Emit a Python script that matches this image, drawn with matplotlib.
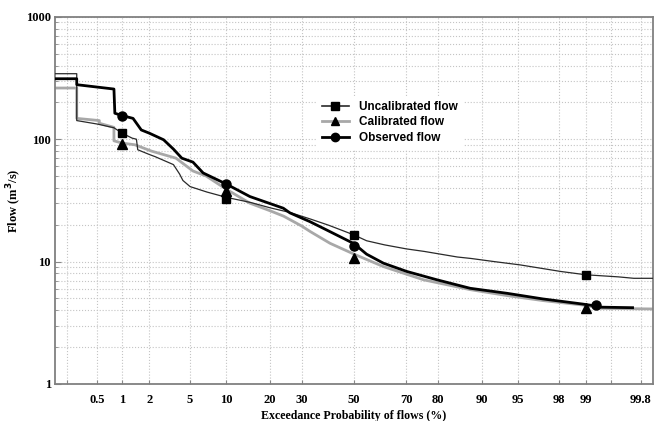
import numpy as np
import matplotlib
matplotlib.use('Agg')
import matplotlib.pyplot as plt
import matplotlib.ticker as ticker
from matplotlib.lines import Line2D
from statistics import NormalDist

# exceedance probability (%) and flow (m3/s)
uncal_p = [0.135, 0.27, 0.27, 0.5, 0.8, 1.0, 1.3, 1.45, 1.5, 2.0, 2.3, 3.5, 4.0,
           4.3, 5.0, 7.0, 10, 15, 20, 26, 33, 40, 50, 55, 62, 70, 76, 85, 88,
           92, 95.2, 98.1, 99, 99.6, 99.75, 99.865]
uncal_q = [343, 343, 142, 133, 124, 112, 102, 100, 82, 75, 72, 62, 52,
           46, 41, 37, 33.5, 30.4, 27.5, 25.2, 22.3, 19.8, 16.5, 14.8, 13.7, 12.7, 12.1, 10.9, 10.6,
           10.0, 9.4, 8.3, 7.8, 7.5, 7.3, 7.3]

cal_p = [0.135, 0.27, 0.27, 0.53, 0.53, 0.8, 0.8, 1.0, 1.4, 2.1, 3.7, 5.3, 6.9,
         10, 14.8, 20, 24, 30, 33, 40.5, 50, 61.6, 75.7, 87.8, 93.8, 97.1,
         98.9, 99.35, 99.865]
cal_q = [262, 262, 148, 142, 135, 125, 97, 93, 90, 80, 70, 55, 50,
         39, 30, 26, 23.5, 19.5, 17.6, 14.1, 11.5, 9.1, 7.1, 5.9, 5.27, 4.8,
         4.42, 4.15, 4.1]

obs_p = [0.135, 0.27, 0.27, 0.8, 0.82, 1.0, 1.33, 1.64, 2.0, 2.8, 3.5, 4.2, 5.3, 6.5,
         10, 14.8, 23.9, 26, 32.9, 37.9, 50, 55, 61.6, 70.2, 79.7, 87.8, 93.8,
         97.1, 98.9, 99.3, 99.35, 99.74]
obs_q = [312, 312, 279, 257, 163, 156, 148, 119, 112, 99, 83, 70, 65, 53,
         43, 34, 27.3, 25, 21.2, 18.7, 14, 11.5, 9.7, 8.3, 7.1, 6.05, 5.5,
         4.95, 4.5, 4.3, 4.24, 4.2]

# marker points
uncal_mp = [1, 10, 50, 99]
uncal_mq = [112, 32.5, 16.5, 7.8]
cal_mp = [1, 10, 50, 99]
cal_mq = [91, 38, 10.7, 4.2]
obs_mp = [1, 10, 50, 99.23]
obs_mq = [156, 43, 13.5, 4.45]

xtick_vals = [0.2, 0.5, 1, 2, 5, 10, 20, 30, 50, 70, 80, 90, 95, 98, 99, 99.5, 99.8]
xtick_labels = ['', '0.5', '1', '2', '5', '10', '20', '30', '50', '70', '80',
                '90', '95', '98', '99', '', '99.8']

_nd = NormalDist()
_ppf = np.vectorize(lambda p: _nd.inv_cdf(min(max(p / 100.0, 1e-9), 1 - 1e-9)),
                    otypes=[float])
_cdf = np.vectorize(lambda z: _nd.cdf(z) * 100.0, otypes=[float])


def forward(p):
    return _ppf(np.asarray(p, dtype=float))


def inverse(z):
    return _cdf(np.asarray(z, dtype=float))


serif = {'family': 'Liberation Serif', 'weight': 'bold'}

fig = plt.figure(figsize=(6.63, 4.21), dpi=100)
ax = fig.add_axes([0.083, 0.088, 0.902, 0.872])

ax.set_xscale('function', functions=(forward, inverse))
ax.set_yscale('log')

c_unc, c_cal, c_obs = '#2a2a2a', '#a8a8a8', '#000000'
ax.plot(uncal_p, uncal_q, color=c_unc, lw=0.9, zorder=3)
ax.plot(cal_p, cal_q, color=c_cal, lw=2.0, zorder=2)
ax.plot(obs_p, obs_q, color=c_obs, lw=2.0, zorder=4)
ax.plot(uncal_mp, uncal_mq, ls='none', marker='s', ms=6, color=c_obs, zorder=5)
ax.plot(cal_mp, cal_mq, ls='none', marker='^', ms=6.5, color=c_obs, zorder=5)
ax.plot(obs_mp, obs_mq, ls='none', marker='o', ms=6.5, color=c_obs, zorder=5)

ax.set_xlim(0.135, 99.865)
ax.set_ylim(1, 1000)

ax.set_xticks(xtick_vals)
ax.set_xticklabels(xtick_labels)
ax.xaxis.set_minor_locator(ticker.NullLocator())
ax.yaxis.set_major_formatter(ticker.FuncFormatter(lambda v, _: f'{v:g}'))
ax.yaxis.set_minor_formatter(ticker.NullFormatter())

ax.tick_params(axis='x', direction='in', length=3, pad=7, color='#888888')
ax.tick_params(axis='y', which='major', direction='in', length=4, pad=3, color='#888888')
ax.tick_params(axis='y', which='minor', direction='in', length=2, color='#888888')
for lab in ax.get_xticklabels() + ax.get_yticklabels():
    lab.set_fontfamily('Liberation Serif')
    lab.set_fontweight('bold')
    lab.set_fontsize(9)

ax.grid(True, which='major', axis='x', ls=':', lw=0.8, color='#c4c4c4')
ax.grid(True, which='both', axis='y', ls=':', lw=0.8, color='#c4c4c4')
for s in ax.spines.values():
    s.set_color('#808080')
    s.set_linewidth(1.3)

ax.set_xlabel('Exceedance Probability of flows (%)', fontdict=serif, fontsize=8.6, labelpad=3)
ax.set_ylabel('Flow (m$^\\mathbf{3}$/s)', fontdict=serif, fontsize=9, labelpad=1)

handles = [
    Line2D([], [], color=c_unc, lw=1.2, marker='s', ms=5.5, mfc=c_obs, mec=c_obs),
    Line2D([], [], color=c_cal, lw=2.0, marker='^', ms=6, mfc=c_obs, mec=c_obs),
    Line2D([], [], color=c_obs, lw=2.0, marker='o', ms=6, mfc=c_obs, mec=c_obs),
]
labels = ['Uncalibrated flow', 'Calibrated flow', 'Observed flow']
leg = ax.legend(handles, labels, loc='upper left', bbox_to_anchor=(0.428, 0.80),
                frameon=True, framealpha=1, edgecolor='none', fancybox=False,
                handlelength=2.3, handletextpad=0.9, labelspacing=0.3, numpoints=1,
                prop={'family': 'Liberation Sans', 'weight': 'bold', 'size': 8.5})

fig.savefig('out.png', dpi=100)
